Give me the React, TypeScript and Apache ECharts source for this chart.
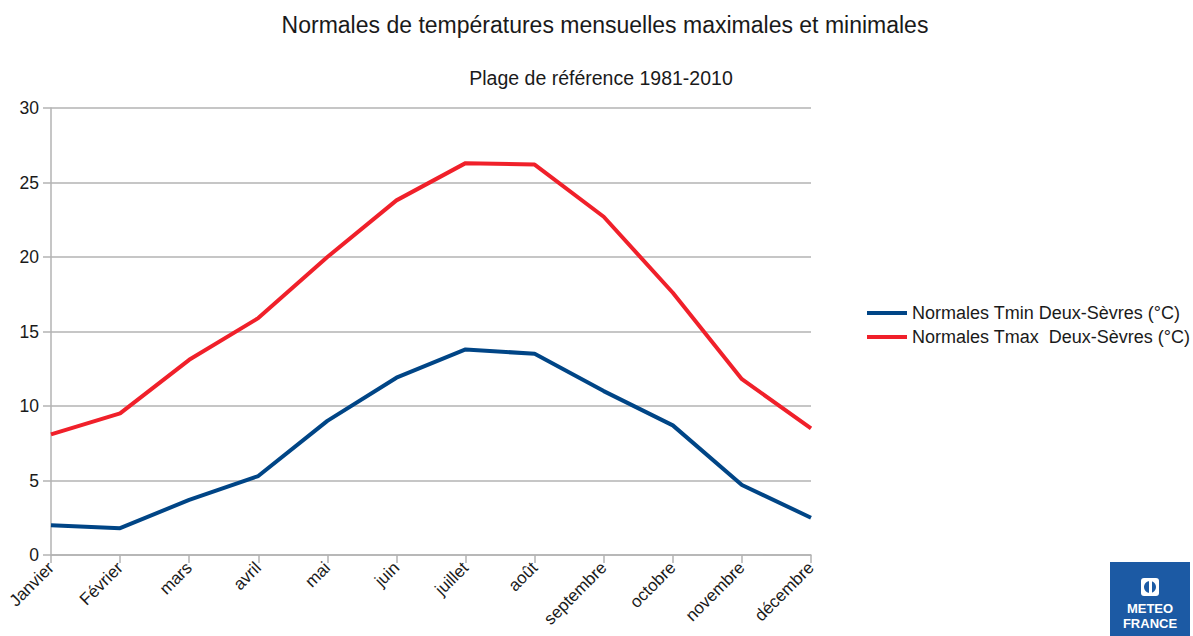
import React, { useEffect, useRef } from "react";
import * as echarts from "echarts";

const months = ["Janvier", "Février", "mars", "avril", "mai", "juin", "juillet", "août", "septembre", "octobre", "novembre", "décembre"];
const tmin = [2.0, 1.8, 3.7, 5.3, 9.0, 11.9, 13.8, 13.5, 11.0, 8.7, 4.7, 2.5];
const tmax = [8.1, 9.5, 13.1, 15.9, 20.0, 23.8, 26.3, 26.2, 22.7, 17.6, 11.8, 8.5];
const seriesNames = ["Normales Tmin Deux-Sèvres (°C)", "Normales Tmax  Deux-Sèvres (°C)"];
const titleText = "Normales de températures mensuelles maximales et minimales";
const subtitleText = "Plage de référence 1981-2010";

const FONT = "'Liberation Sans', Arial, sans-serif";

export default function App() {
  const ref = useRef<HTMLDivElement>(null);
  useEffect(() => {
    if (!ref.current) return;
    const chart = echarts.init(ref.current, null, { renderer: "svg" });
    chart.setOption({
      animation: false,
      backgroundColor: "#ffffff",
      title: [
        {
          text: titleText,
          left: 600,
          textAlign: "center",
          top: 8,
          textStyle: { fontFamily: FONT, fontSize: 23, fontWeight: "normal", color: "#1a1a1a" },
        },
        {
          text: subtitleText,
          left: 596,
          textAlign: "center",
          top: 63,
          textStyle: { fontFamily: FONT, fontSize: 19.5, fontWeight: "normal", color: "#1a1a1a" },
        },
      ],
      legend: {
        orient: "vertical",
        left: 862,
        top: 299,
        itemWidth: 40,
        itemHeight: 4,
        itemGap: 6,
        icon: "rect",
        textStyle: { fontFamily: FONT, fontSize: 18, color: "#1a1a1a" },
        data: seriesNames,
      },
      grid: { left: 51, right: 382, top: 108, bottom: 81, containLabel: false },
      xAxis: {
        type: "category",
        data: months,
        boundaryGap: false,
        axisLine: { lineStyle: { color: "#b3b3b3", width: 1.5 } },
        axisTick: { show: true, length: 8, alignWithLabel: true, lineStyle: { color: "#b3b3b3", width: 1.5 } },
        axisLabel: { rotate: 45, interval: 0, fontFamily: FONT, fontSize: 17, color: "#1a1a1a", margin: 10 },
        splitLine: { show: false },
      },
      yAxis: {
        type: "value",
        min: 0,
        max: 30,
        interval: 5,
        axisLine: { show: true, lineStyle: { color: "#b3b3b3", width: 1.5 } },
        axisTick: { show: true, length: 8, lineStyle: { color: "#b3b3b3", width: 1.5 } },
        axisLabel: { fontFamily: FONT, fontSize: 17.5, color: "#1a1a1a", margin: 12 },
        splitLine: { show: true, lineStyle: { color: "#b3b3b3", width: 1.5 } },
      },
      series: [
        {
          name: seriesNames[0],
          type: "line",
          data: tmin,
          showSymbol: false,
          symbol: "none",
          lineStyle: { color: "#004586", width: 4 },
          itemStyle: { color: "#004586" },
        },
        {
          name: seriesNames[1],
          type: "line",
          data: tmax,
          showSymbol: false,
          symbol: "none",
          lineStyle: { color: "#f0202a", width: 4 },
          itemStyle: { color: "#f0202a" },
        },
      ],
      graphic: [
        { type: "rect", shape: { x: 1110, y: 562, width: 80, height: 74 }, style: { fill: "#1c5aa4" } },
        { type: "rect", shape: { x: 1141, y: 578, width: 18, height: 18, r: 3 }, style: { fill: "#ffffff" } },
        { type: "circle", shape: { cx: 1150, cy: 587, r: 6 }, style: { fill: "#1c5aa4" } },
        { type: "rect", shape: { x: 1149, y: 580, width: 3, height: 14 }, style: { fill: "#ffffff" } },
        { type: "text", x: 1150, y: 608, style: { text: "METEO", fill: "#ffffff", font: "bold 13px 'Liberation Sans', Arial, sans-serif", align: "center", verticalAlign: "middle" } },
        { type: "text", x: 1150, y: 623, style: { text: "FRANCE", fill: "#ffffff", font: "bold 13px 'Liberation Sans', Arial, sans-serif", align: "center", verticalAlign: "middle" } },
      ],
    });
    return () => chart.dispose();
  }, []);
  return <div ref={ref} style={{ position: "fixed", left: 0, top: 0, width: 1193, height: 636 }} />;
}
